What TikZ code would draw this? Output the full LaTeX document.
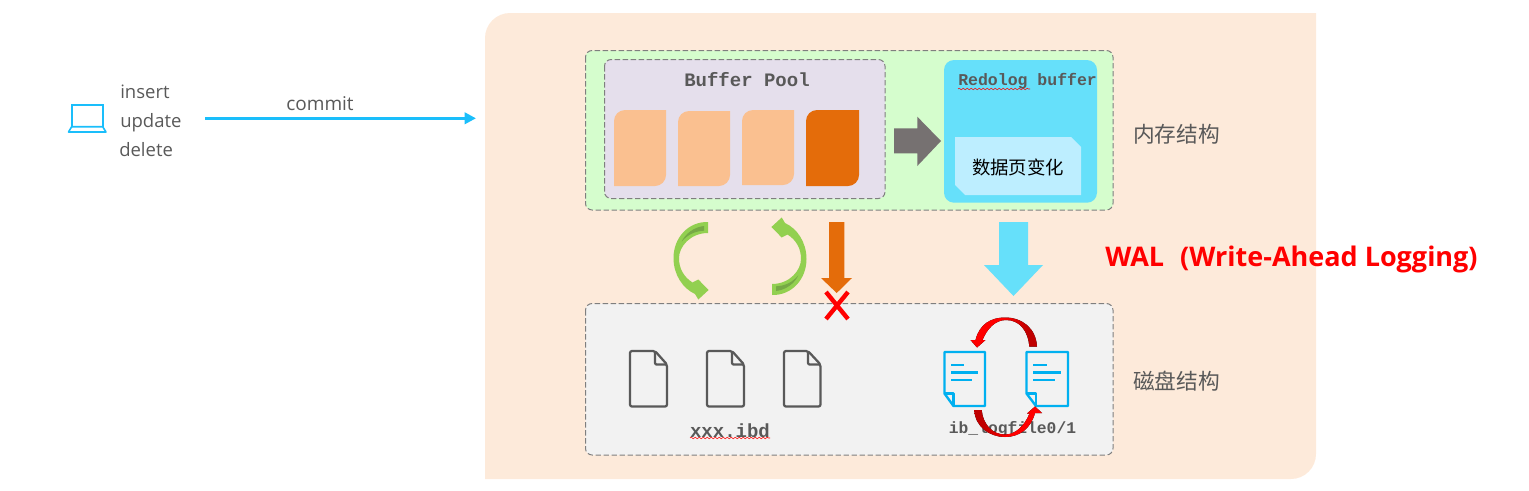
\documentclass[tikz,border=0pt]{standalone}
\usepackage{fontspec}
\setmainfont{Open Sans}
\newfontfamily\monob{Liberation Mono}[BoldFont={Liberation Mono Bold}]
\newfontfamily\cjk{Noto Sans CJK SC}
\usetikzlibrary{arrows.meta,decorations.pathmorphing}
\definecolor{peach}{HTML}{FDEADA}
\definecolor{memgreen}{HTML}{D5FDCD}
\definecolor{poolgray}{HTML}{E5DFEC}
\definecolor{lightorange}{HTML}{FAC090}
\definecolor{deeporange}{HTML}{E46C0A}
\definecolor{skyfill}{HTML}{66E0FA}
\definecolor{paleblue}{HTML}{BDEEFF}
\definecolor{txtgray}{HTML}{595959}
\definecolor{dashgray}{HTML}{7F7F7F}
\definecolor{arrowgray}{HTML}{767171}
\definecolor{leaf}{HTML}{92D050}
\definecolor{leafdark}{HTML}{76A945}
\definecolor{cyanline}{HTML}{00B0F0}
\definecolor{commitblue}{HTML}{1ABEFB}
\definecolor{darkred}{HTML}{C00000}
\pgfdeclarehorizontalshading{redtodark}{100bp}{color(0bp)=(red); color(48bp)=(red); color(68bp)=(darkred); color(100bp)=(darkred)}
\pgfdeclarehorizontalshading{darktored}{100bp}{color(0bp)=(darkred); color(32bp)=(darkred); color(50bp)=(red); color(100bp)=(red)}
\newcommand{\fpx}[1]{\fontsize{\fpeval{#1*0.75}pt}{\fpeval{#1*0.9}pt}\selectfont}
\tikzset{
  x=0.75pt,y=-0.75pt,
  dashbox/.style={draw=dashgray,line width=0.75pt,dash pattern=on 4pt off 2pt,rounded corners=5pt},
  codelabel/.style={inner sep=0,text=txtgray,font=\monob\bfseries},
  cnlabel/.style={inner sep=0,text=txtgray,anchor=west,font=\cjk\fpx{21.7}},
  oplabel/.style={inner sep=0,text=txtgray,anchor=base west,font=\fpx{18.5}},
  pagelight/.style={fill=lightorange},
  pagedeep/.style={fill=deeporange},
  docgray/.style={draw=txtgray,line width=1.7pt,line join=round,rounded corners=1.5pt},
  docblue/.style={draw=cyanline,line width=1.8pt,line join=round},
  docline/.style={draw=cyanline,line width=1.8pt},
  squiggle/.style={draw=red,line width=0.4pt,decorate,decoration={snake,amplitude=0.6pt,segment length=3pt}},
}
\newcommand{\pageshape}[5]{% style,x1,y1,x2,y2
  \fill[#1] (#2+11,#3) -- (#4,#3) -- (#4,#5-11) arc[start angle=0,end angle=90,radius=11] -- (#2,#5) -- (#2,#3+11) arc[start angle=180,end angle=270,radius=11] -- cycle;}
\newcommand{\grayfile}[3]{% x1,x2,foldx
  \draw[docgray] (#1,351) -- (#3,351) -- (#2,364.5) -- (#2,406.5) -- (#1,406.5) -- cycle;
  \draw[docgray,rounded corners=1pt] (#3,351) -- (#3,364.5) -- (#2,364.5);}
\newcommand{\bluefile}[6]{% x1,x2,fold,line x,...
  \draw[docblue] (#1,352) -- (#2,352) -- (#2,406) -- (#3,406) -- (#1,393.5) -- cycle;
  \draw[docblue] (#1,393.5) -- (#3,393.5) -- (#3,406);
  \draw[docline] (#4,365) -- (#5,365);
  \draw[docline] (#4,372.3) -- (#6,372.3);
  \draw[docline] (#4,380) -- (#6-6,380);}
\newcommand{\greenarrow}{%
  \fill[leaf] (708,222) .. controls (688,221.5) and (673.5,238) .. (673.5,258)
    .. controls (673.5,275) and (683,288.5) .. (695,294) -- (698.3,299.5) -- (708.6,290) -- (698.3,279.5) -- (692.5,282.5)
    .. controls (684,277) and (679,269) .. (679,258)
    .. controls (679,247) and (690,233) .. (708,233) -- cycle;
  \fill[leafdark] (681.7,241.7) .. controls (685,234) and (694,227) .. (704,226) -- (704,230.7) .. controls (695,231) and (687,235) .. cycle;}
\begin{document}
\begin{tikzpicture}
\path[use as bounding box] (0,0) rectangle (1529,490);
% peach panel
\fill[peach] (485,479) -- (485,38) arc[start angle=180,end angle=270,radius=25] -- (1316,13) -- (1316,454) arc[start angle=0,end angle=90,radius=25] -- cycle;
% memory + disk
\path[dashbox,fill=memgreen] (585.5,50.5) rectangle (1113,210);
\path[dashbox,fill=poolgray] (604.5,59.5) rectangle (885,198.5);
\path[dashbox,fill=black!5] (585.5,303.5) rectangle (1113,455);
% pages
\pageshape{pagelight}{614}{110}{666}{186}
\pageshape{pagelight}{678}{111}{730}{186}
\pageshape{pagelight}{742}{110}{794}{185}
\pageshape{pagedeep}{806}{110}{859}{186}
\node[codelabel,font=\monob\bfseries\fpx{19}] (bufferpool) at (747,80) {Buffer Pool};
% gray arrow
\fill[arrowgray] (894,128.3) -- (917.3,128.3) -- (917.3,116.7) -- (941,141) -- (917.3,166) -- (917.3,153.3) -- (894,153.3) -- cycle;
% redo buffer
\fill[skyfill,rounded corners=7.5pt] (944,60) rectangle (1097,202.7);
\fill[paleblue] (955,137) -- (1071,137) -- (1081,147) -- (1081,195) -- (965,195) -- (955,185) -- cycle;
\node[inner sep=0,text=black,font=\cjk\fpx{18.4}] (pagechange) at (1018,167) {数据页变化};
\node[codelabel,font=\monob\bfseries\fpx{16.5},anchor=west] (redolog) at (958,81) {Redolog buffer};
\draw[squiggle] (958,89) -- (1030,89);
% side labels
\node[cnlabel] (memlabel) at (1133,134) {内存结构};
\node[cnlabel] (disklabel) at (1133,381) {磁盘结构};
% green arrows
\greenarrow
\begin{scope}[shift={(1480,517)},xscale=-1,yscale=-1]
\greenarrow
\end{scope}
% orange arrow and cross
\fill[deeporange] (829,222) -- (844.3,222) -- (844.3,278) -- (852,278) -- (836.7,293) -- (821,278) -- (829,278) -- cycle;
\draw[red,line width=3.3pt] (826,292) -- (848,319);
\draw[red,line width=3.3pt] (848,292) -- (826,319);
% big blue arrow
\fill[skyfill] (999,222) -- (1028,222) -- (1028,265) -- (1043,265) -- (1013.5,296) -- (984,265) -- (999,265) -- cycle;
\node[inner sep=0,text=red,anchor=west,font=\bfseries\fpx{27}] (wal) at (1105,259) {WAL\hspace{12pt}(Write-Ahead Logging)};
% gray files
\grayfile{630}{667}{655}
\grayfile{707}{744}{732}
\grayfile{784}{820.5}{808}
\node[codelabel,font=\monob\bfseries\fpx{19}] (ibd) at (730,431) {xxx.ibd};
\draw[squiggle] (690,438) -- (770,438);
% blue docs
\bluefile{944.5}{985}{953.5}{951}{964}{978}
\bluefile{1026.5}{1068}{1036}{1033}{1046.5}{1060.5}
\node[codelabel,font=\monob\bfseries\fpx{16.3}] (logfile) at (1012.5,429) {ib\_logfile0/1};
% red arcs
\fill[shading=redtodark] (1037,346.7)
  .. controls (1036,328) and (1022,317.5) .. (1005,317.5)
  .. controls (991,317.5) and (979.5,324) .. (975.5,340) -- (970.5,340) -- (977,347.5) -- (985.5,340) -- (982.5,340)
  .. controls (987,329) and (995,320) .. (1006,320)
  .. controls (1019,320) and (1028,330) .. (1029.3,346.7) -- cycle;
\fill[shading=darktored] (974.3,410)
  .. controls (975,427) and (990,437) .. (1005,437)
  .. controls (1020,437) and (1031,428) .. (1035,413) -- (1042,413) -- (1035,406.5) -- (1027,413.5) -- (1029.5,413.5)
  .. controls (1025,425) and (1016,434.5) .. (1005,434.5)
  .. controls (993,434.5) and (983,425) .. (981.7,410) -- cycle;
% client
\draw[commitblue,line width=1.2pt] (71.7,126.7) -- (71.7,104.7) -- (102.7,104.7) -- (102.7,126.7);
\draw[commitblue,line width=1.2pt,line join=round] (71.7,126.7) -- (102.7,126.7) -- (106,132) -- (68.5,132) -- cycle;
\coordinate (clientlaptop) at (87,118);
\node[oplabel] (insert) at (120,98) {insert};
\node[oplabel] (update) at (120,127) {update};
\node[oplabel] (delete) at (119,156) {delete};
\coordinate (commitstart) at (205,118.3);
\coordinate (commitend) at (476,118.3);
\draw[commitblue,line width=2pt,-{Triangle[length=8.5pt,width=8.5pt]}] (commitstart) -- (commitend);
\node[inner sep=0,text=txtgray,anchor=base,font=\fpx{19}] (commit) at (320,110.7) {commit};
\end{tikzpicture}
\end{document}
